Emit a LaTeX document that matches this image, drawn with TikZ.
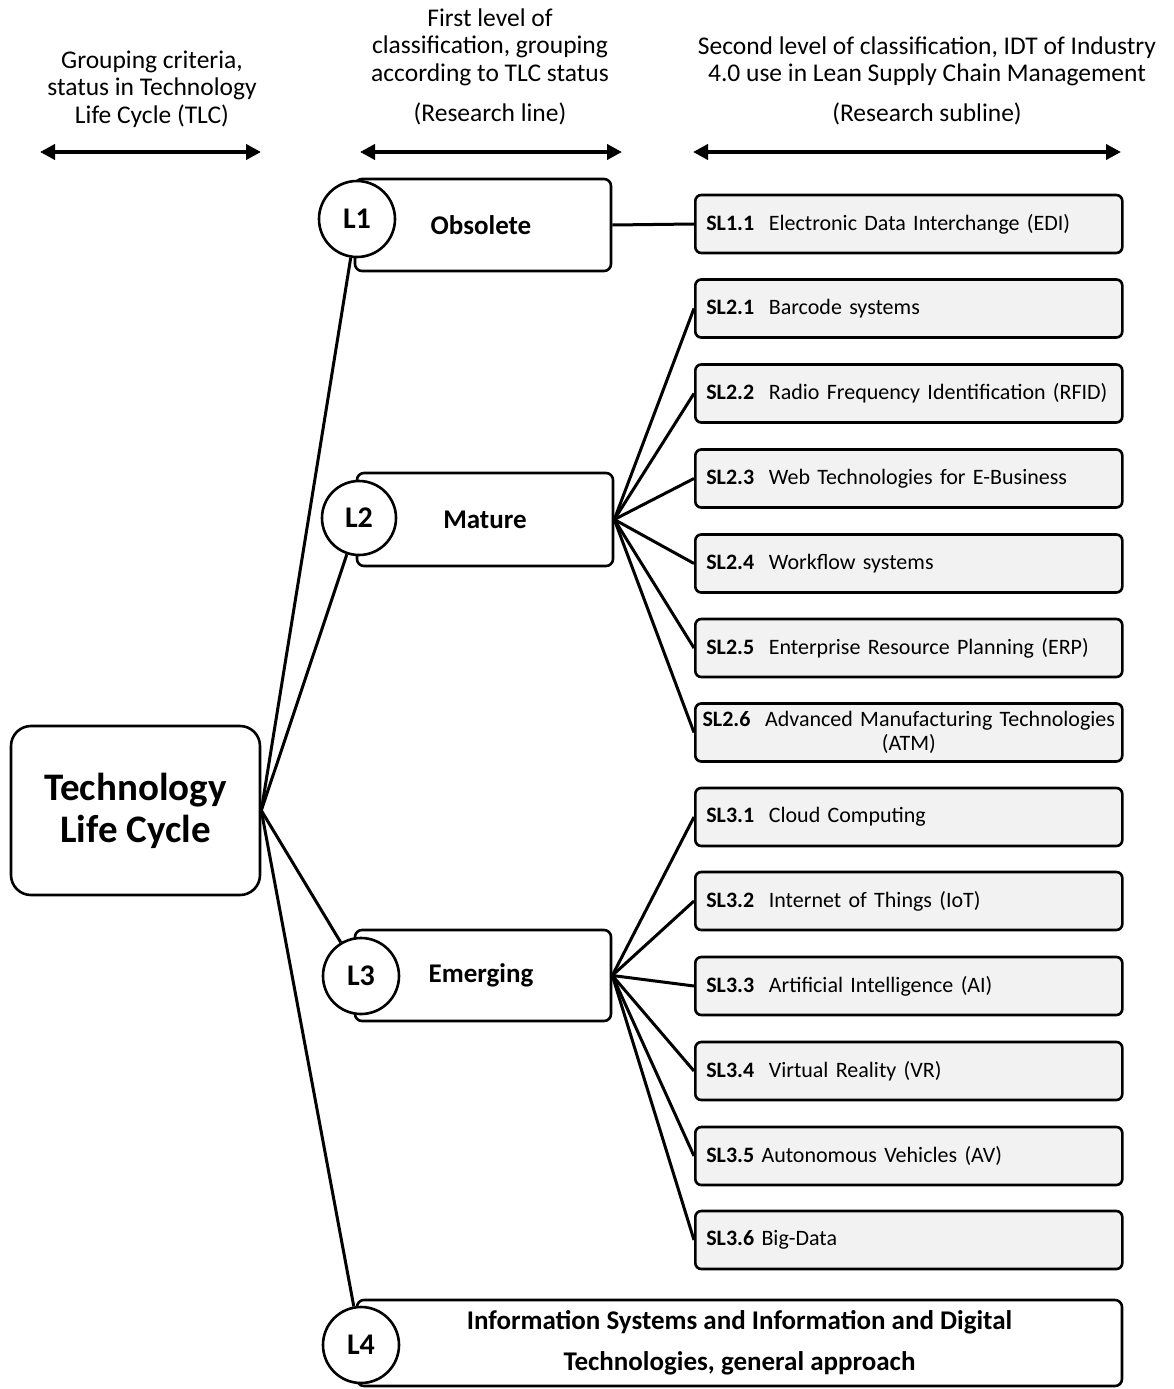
\documentclass[tikz,border=0pt]{standalone}
\usepackage{fontspec}
\setmainfont{Carlito}
\newfontfamily\slfont[WordSpace=0.8]{Carlito}
\usetikzlibrary{arrows.meta}
\definecolor{slgray}{HTML}{F2F2F2}
\newcommand\fsz[2]{\fontsize{#1}{#2}\selectfont}
\begin{document}
\begin{tikzpicture}[x=1pt,y=-1pt,
  hdr/.style={align=center, font=\fsz{25.5}{27.5}, inner sep=0pt},
  harrow/.style={line width=4pt, {Triangle[length=15pt,width=15pt]}-{Triangle[length=15pt,width=15pt]}},
  slbox/.style={draw, line width=2.6pt, rounded corners=6pt, fill=slgray, minimum width=427pt, minimum height=58pt, text width=405pt, align=left, anchor=west, font=\slfont\fsz{22}{24}, inner sep=0pt},
  lbox/.style={draw, line width=2.6pt, rounded corners=7pt, fill=white, minimum width=256pt, minimum height=92pt, font=\bfseries\fsz{27}{30}, inner sep=0pt},
  lcirc/.style={draw, circle, line width=2.6pt, fill=white, minimum size=76pt, inner sep=0pt, font=\bfseries\fsz{30}{32}},
  conn/.style={line width=3pt}
]
\useasboundingbox (0,0) rectangle (1174,1389);

% headers
\node[hdr] (h1) at (152,89) {Grouping criteria,\\status in Technology\\Life Cycle (TLC)};
\node[hdr] (h2) at (490,47) {First level of\\classification, grouping\\according to TLC status};
\node[hdr] (h2b) at (490,114) {(Research line)};
\node[hdr] (h3) at (927,61.5) {Second level of classification, IDT of Industry\\4.0 use in Lean Supply Chain Management};
\node[hdr] (h3b) at (927,114) {(Research subline)};

\coordinate (a1l) at (40,152); \coordinate (a1r) at (261,152);
\coordinate (a2l) at (360,152); \coordinate (a2r) at (622,152);
\coordinate (a3l) at (693,152); \coordinate (a3r) at (1121,152);
\draw[harrow] (a1l) -- (a1r);
\draw[harrow] (a2l) -- (a2r);
\draw[harrow] (a3l) -- (a3r);

% root
\node[draw, rounded corners=20pt, line width=2.6pt, minimum width=249pt, minimum height=169pt, align=center, font=\bfseries\fsz{39}{42}, inner sep=0pt] (tlc) at (135.5,810.5) {Technology\\Life Cycle};

% level boxes
\node[lbox] (obs) at (483,225) {\hspace*{-4pt}Obsolete};
\node[lbox, minimum height=93pt] (mat) at (485,519.5) {Mature};
\node[lbox, minimum height=91pt] (emg) at (483,975.5) {\hspace*{-4pt}Emerging};
\node[draw, line width=2.6pt, rounded corners=7pt, fill=white, minimum width=765pt, minimum height=86pt, align=center, font=\bfseries\fsz{27}{41}, inner sep=0pt] (gen) at (739.5,1343) {Information Systems and Information and Digital\\Technologies, general approach};

% sub boxes
\node[slbox] (s11) at (694,224) {\textbf{SL1.1}\ \ Electronic Data Interchange (EDI)};
\node[slbox] (s21) at (694,308.5) {\textbf{SL2.1}\ \ Barcode systems};
\node[slbox] (s22) at (694,393.5) {\textbf{SL2.2}\ \ Radio Frequency Identification (RFID)};
\node[slbox] (s23) at (694,478.5) {\textbf{SL2.3}\ \ Web Technologies for E-Business};
\node[slbox] (s24) at (694,563.5) {\textbf{SL2.4}\ \ Workflow systems};
\node[slbox] (s25) at (694,648) {\textbf{SL2.5}\ \ Enterprise Resource Planning (ERP)};
\node[slbox, align=center, text width=425pt] (s26) at (694,732.5) {\textbf{SL2.6}\ \ Advanced Manufacturing Technologies\\(ATM)};
\node[slbox] (s31) at (694,817) {\textbf{SL3.1}\ \ Cloud Computing};
\node[slbox] (s32) at (694,901) {\textbf{SL3.2}\ \ Internet of Things (IoT)};
\node[slbox] (s33) at (694,986) {\textbf{SL3.3}\ \ Artificial Intelligence (AI)};
\node[slbox] (s34) at (694,1071) {\textbf{SL3.4}\ \ Virtual Reality (VR)};
\node[slbox] (s35) at (694,1156) {\textbf{SL3.5} Autonomous Vehicles (AV)};
\node[slbox] (s36) at (694,1240) {\textbf{SL3.6} Big-Data};

% connectors level->sub
\draw[conn] (obs.east) -- (s11.west);
\foreach \s in {s21,s22,s23,s24,s25,s26} \draw[conn] (mat.east) -- (\s.west);
\foreach \s in {s31,s32,s33,s34,s35,s36} \draw[conn] (emg.east) -- (\s.west);

% circles
\node[lcirc] (L1) at (357,219) {L1};
\node[lcirc, minimum size=74pt] (L2) at (359,518) {L2};
\node[lcirc] (L3) at (361,976) {L3};
\node[lcirc] (L4) at (361,1345) {L4};

% root connectors
\foreach \c in {L1,L2,L3,L4} \draw[conn] (tlc.east) -- (\c);
\end{tikzpicture}
\end{document}
